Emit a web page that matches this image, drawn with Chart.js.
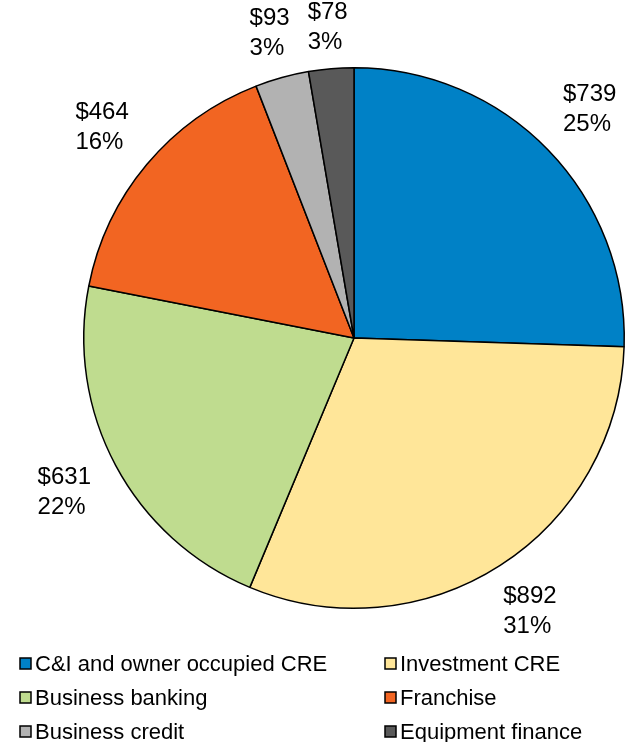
<!DOCTYPE html>
<html>
<head>
<meta charset="utf-8">
<script src="https://cdn.jsdelivr.net/npm/chart.js@4.4.0/dist/chart.umd.min.js"></script>
<style>
  html, body { margin: 0; padding: 0; background: #fff; }
  #wrap { width: 628px; height: 742px; }
</style>
</head>
<body>
<div id="wrap"><canvas id="pie" width="628" height="742"></canvas></div>
<script>
// datos del gráfico
const categorias = ['C&I and owner occupied CRE', 'Investment CRE', 'Business banking', 'Franchise', 'Business credit', 'Equipment finance'];
const montos = [739, 892, 631, 464, 93, 78];
const porcentajes = [25, 31, 22, 16, 3, 3];
const colores = ['#0081C6', '#FFE699', '#BFDC8F', '#F26522', '#B2B2B2', '#595959'];

const FUENTE = "Arial, 'Liberation Sans', sans-serif";

// etiquetas $ y % alrededor de la torta (la caja toca un círculo un poco más grande que la torta)
const etiquetasPlugin = {
    id: 'etiquetas',
    afterDatasetsDraw(chart) {
        const ctx = chart.ctx;
        const meta = chart.getDatasetMeta(0);
        ctx.save();
        ctx.font = '24px ' + FUENTE;
        ctx.fillStyle = '#000';
        ctx.textBaseline = 'middle';
        ctx.textAlign = 'left';
        meta.data.forEach(function(arc, i) {
            const mid = (arc.startAngle + arc.endAngle) / 2;
            const l1 = '$' + montos[i];
            const l2 = porcentajes[i] + '%';
            const w = Math.max(ctx.measureText(l1).width, ctx.measureText(l2).width);
            const ext = ((w + 20) / 2) * Math.abs(Math.cos(mid)) + 25 * Math.abs(Math.sin(mid));
            const dist = arc.outerRadius * 1.052 + ext;
            const cx = arc.x + Math.cos(mid) * dist;
            const cy = arc.y + Math.sin(mid) * dist;
            ctx.fillText(l1, cx - w / 2, cy - 15);
            ctx.fillText(l2, cx - w / 2, cy + 15);
        });
        ctx.restore();
    }
};

// leyenda en dos columnas abajo
const leyendaPlugin = {
    id: 'leyendaAbajo',
    afterDraw(chart) {
        const ctx = chart.ctx;
        const colX = [20, 385];
        const filaY = [664, 698, 732];
        ctx.save();
        ctx.font = '22px ' + FUENTE;
        ctx.textBaseline = 'middle';
        categorias.forEach(function(cat, i) {
            const x = colX[i % 2];
            const y = filaY[Math.floor(i / 2)];
            ctx.fillStyle = colores[i];
            ctx.fillRect(x, y - 6, 11, 11);
            ctx.strokeStyle = '#000';
            ctx.lineWidth = 1.5;
            ctx.strokeRect(x, y - 6, 11, 11);
            ctx.fillStyle = '#000';
            ctx.fillText(cat, x + 15, y + 1);
        });
        ctx.restore();
    }
};

new Chart(document.getElementById('pie'), {
    type: 'pie',
    data: {
        labels: categorias,
        datasets: [{
            data: montos,
            backgroundColor: colores,
            borderColor: '#000',
            borderWidth: 1.5
        }]
    },
    options: {
        responsive: false,
        animation: false,
        layout: { padding: { left: 83, right: 3, top: 67, bottom: 133 } },
        plugins: {
            legend: { display: false },
            tooltip: { enabled: false }
        }
    },
    plugins: [etiquetasPlugin, leyendaPlugin]
});
</script>
</body>
</html>
